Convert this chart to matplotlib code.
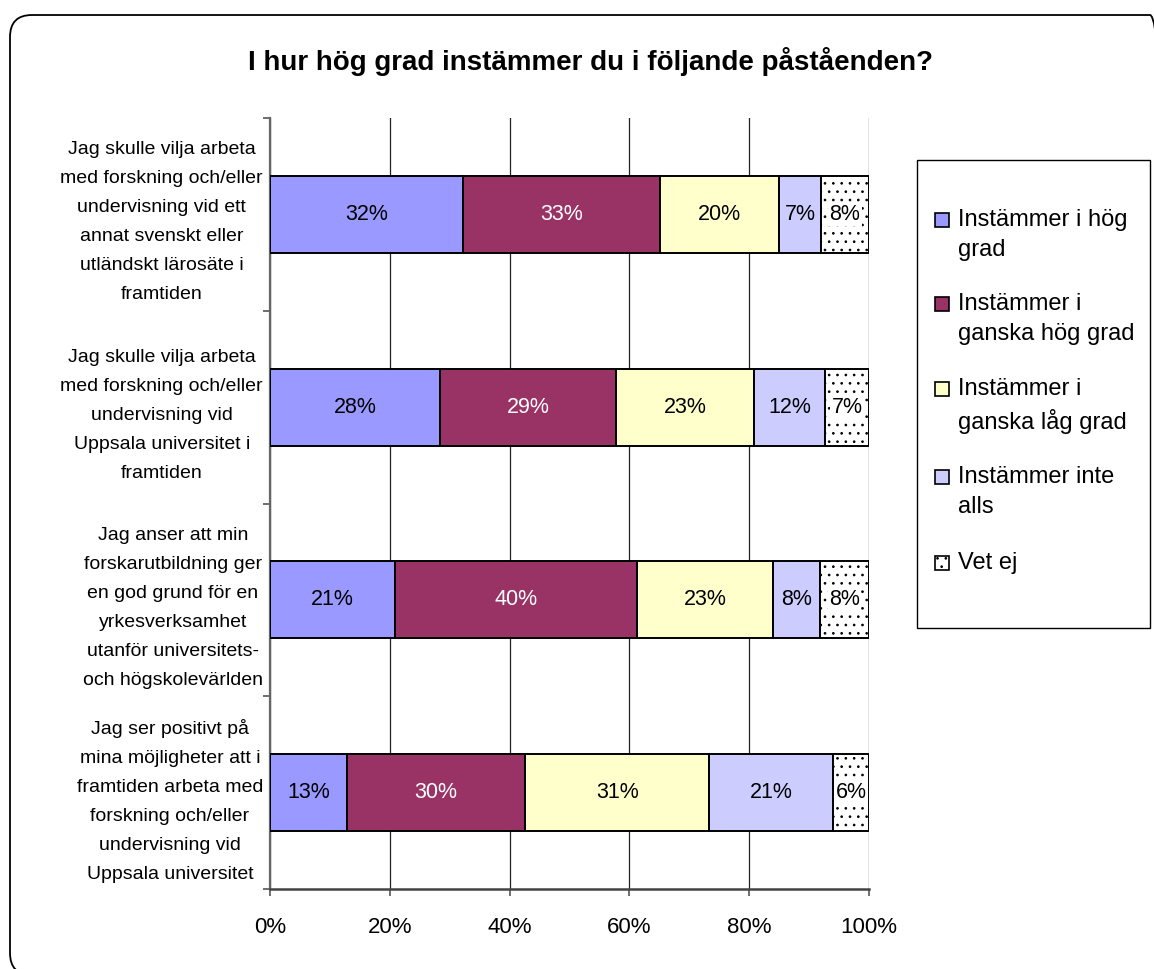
import numpy as np
import matplotlib
matplotlib.use('Agg')
import matplotlib.pyplot as plt
from matplotlib.patches import FancyBboxPatch, Rectangle

plt.rcParams['font.family'] = ['Liberation Sans', 'DejaVu Sans']
plt.rcParams['hatch.linewidth'] = 0.7

# Data (percent of respondents)
statements = [
    'Jag skulle vilja arbeta\nmed forskning och/eller\nundervisning vid ett\nannat svenskt eller\nutländskt lärosäte i\nframtiden',
    'Jag skulle vilja arbeta\nmed forskning och/eller\nundervisning vid\nUppsala universitet i\nframtiden',
    'Jag anser att min\nforskarutbildning ger\nen god grund för en\nyrkesverksamhet\nutanför universitets-\noch högskolevärlden',
    'Jag ser positivt på\nmina möjligheter att i\nframtiden arbeta med\nforskning och/eller\nundervisning vid\nUppsala universitet',
]
series_names = ['Instämmer i hög\ngrad', 'Instämmer i\nganska hög grad', 'Instämmer i\nganska låg grad',
                'Instämmer inte\nalls', 'Vet ej']
hog = [32.2, 28.4, 20.9, 12.8]
ganska_hog = [32.9, 29.4, 40.4, 29.8]
ganska_lag = [19.9, 23.0, 22.6, 30.7]
inte_alls = [7.0, 11.9, 7.9, 20.7]
vet_ej = [8.0, 7.3, 8.2, 6.0]
x_ticks = [0, 20, 40, 60, 80, 100]
x_ticklabels = ['0%', '20%', '40%', '60%', '80%', '100%']

colors = ['#9999FF', '#993366', '#FFFFCC', '#CCCCFF', 'white']
hatches = [None, None, None, None, '..']
label_colors = ['black', 'white', 'black', 'black', 'black']

W, H = 1154, 969
fig = plt.figure(figsize=(W / 100, H / 100), dpi=100)


def fx(px):
    return px / W


def fy(py):
    return 1 - py / H


# rounded frame around the whole chart
frame = FancyBboxPatch((0.10, -0.06), 11.62, 9.6, boxstyle='round,pad=0,rounding_size=0.22',
                       transform=fig.dpi_scale_trans, facecolor='none', edgecolor='black',
                       linewidth=1.3, zorder=-1)
fig.patches.append(frame)

fig.text(fx(590), fy(62), 'I hur hög grad instämmer du i följande påståenden?',
         ha='center', va='center', fontsize=20, fontweight='bold')

ax = fig.add_axes([fx(270), fy(889), fx(869) - fx(270), fy(118) - fy(889)])
ax.patch.set_alpha(0)

y = np.arange(len(statements))
all_series = [hog, ganska_hog, ganska_lag, inte_alls, vet_ej]
left = np.zeros(len(statements))
for i, vals in enumerate(all_series):
    vals = np.array(vals)
    bars = ax.barh(y, vals, left=left, height=0.4, color=colors[i], edgecolor='black',
                   linewidth=1.4, hatch=hatches[i], zorder=3)
    labels = ['%.0f%%' % v for v in vals]
    if i == 4:
        ax.bar_label(bars, labels=labels, label_type='center', fontsize=15.5, color=label_colors[i],
                     bbox=dict(facecolor='white', edgecolor='none', pad=1), zorder=4)
    else:
        ax.bar_label(bars, labels=labels, label_type='center', fontsize=15.5, color=label_colors[i])
    left += vals

ax.set_xlim(0, 100)
ax.set_ylim(3.5, -0.5)
ax.set_xticks(x_ticks)
ax.set_xticklabels(x_ticklabels, fontsize=16)
ax.xaxis.grid(True, color='#222222', linewidth=0.9, zorder=0)
ax.set_axisbelow(True)

ax.set_yticks([-0.5, 0.5, 1.5, 2.5, 3.5])
ax.set_yticklabels([])
ax.set_yticks(y, minor=True)
ax.set_yticklabels(statements, minor=True, fontsize=14, ha='right', multialignment='center',
                   linespacing=1.92)
ax.tick_params(axis='y', which='minor', length=0, pad=5)
ax.tick_params(axis='y', which='major', length=5, width=1.2, color='#555555', direction='out')
ax.tick_params(axis='x', length=5, width=1.2, color='#555555', direction='out', pad=15)

for s in ['top', 'right']:
    ax.spines[s].set_visible(False)
ax.spines['left'].set_color('#666666')
ax.spines['left'].set_linewidth(1.6)
ax.spines['bottom'].set_color('#444444')
ax.spines['bottom'].set_linewidth(1.8)

# legend drawn by hand (Excel-style, handle aligned to first line)
fig.patches.append(Rectangle((fx(917), fy(628)), fx(1150) - fx(917), fy(160) - fy(628),
                             transform=fig.transFigure, facecolor='white', edgecolor='black',
                             linewidth=1.0, zorder=1))
entry_y = [220, 304, 389, 477, 563]
for i, name in enumerate(series_names):
    yc = entry_y[i]
    fig.patches.append(Rectangle((fx(935), fy(yc + 7)), fx(14), 14 / H, transform=fig.transFigure,
                                 facecolor=colors[i], edgecolor='black', linewidth=1.2,
                                 hatch=hatches[i], zorder=2))
    fig.text(fx(958), fy(yc - 11), name, ha='left', va='top', fontsize=17,
             linespacing=1.45, zorder=3)

fig.savefig('out.png', dpi=100)
